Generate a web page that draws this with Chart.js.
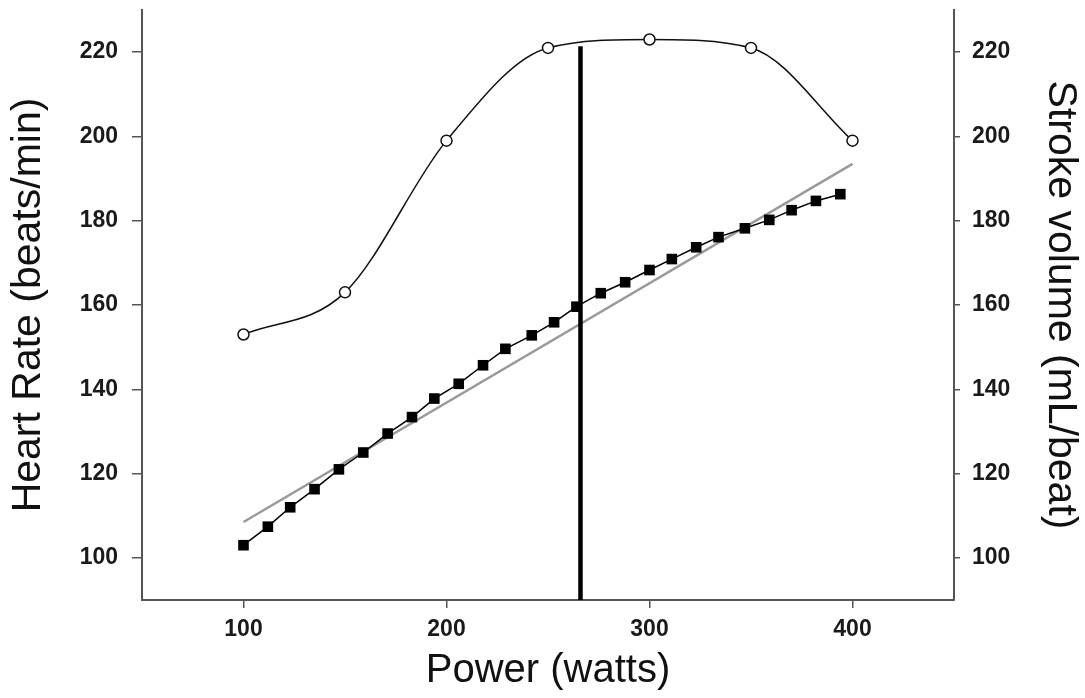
<!DOCTYPE html>
<html>
<head>
<meta charset="utf-8">
<script src="https://cdn.jsdelivr.net/npm/chart.js@4/dist/chart.umd.min.js"></script>
<style>
  html, body { margin: 0; padding: 0; background: #fff; }
  #wrap { width: 1085px; height: 698px; position: relative; }
</style>
</head>
<body>
<div id="wrap"><canvas id="myCanvas"></canvas></div>
<script>
// stroke volume (open circles, right axis)
const svPower = [100, 150, 200, 250, 300, 350, 400];
const strokeVolume = [153, 163, 199, 221, 223, 221, 199];

// heart rate (filled squares, left axis)
const hrPower = [100, 112, 123, 135, 147, 159, 171, 183, 194, 206, 218, 229, 242,
                 253, 264, 276, 288, 300, 311, 323, 334, 347, 359, 370, 382, 394];
const heartRate = [103, 107.4, 112, 116.3, 121, 125, 129.5, 133.4, 137.8, 141.3, 145.7, 149.6, 152.8,
                   155.9, 159.6, 162.8, 165.4, 168.3, 170.9, 173.7, 176.1, 178.2, 180.2, 182.5, 184.7, 186.3];

// grey straight line
const fitPower = [100, 400];
const fitHR = [108.5, 193.5];

// vertical threshold line
const thresholdPower = [266, 266];
const thresholdY = [90, 221.4];

// tick labels
const xTicks = [100, 200, 300, 400];
const yTicks = [100, 120, 140, 160, 180, 200, 220];

const toPoints = (xs, ys) => xs.map((x, i) => ({ x: x, y: ys[i] }));

const axisColor = "#555";
const tickFont = { family: "'Liberation Sans', Arial, sans-serif", size: 23, weight: "bold" };
const titleFont = { family: "'Liberation Sans', Arial, sans-serif", size: 41 };

const data = {
    datasets: [
        {
            label: "Stroke volume",
            data: toPoints(svPower, strokeVolume),
            yAxisID: "y2",
            showLine: true,
            borderColor: "#111",
            borderWidth: 1.5,
            cubicInterpolationMode: "monotone",
            pointStyle: "circle",
            pointRadius: 5.5,
            pointBackgroundColor: "#fff",
            pointBorderColor: "#111",
            pointBorderWidth: 1.5,
        },
        {
            label: "Heart rate",
            data: toPoints(hrPower, heartRate),
            yAxisID: "y",
            showLine: true,
            borderColor: "#000",
            borderWidth: 1.5,
            pointStyle: "rect",
            pointRadius: 7.5,
            pointBackgroundColor: "#000",
            pointBorderColor: "#000",
            pointBorderWidth: 0,
        },
        {
            label: "threshold",
            data: toPoints(thresholdPower, thresholdY),
            yAxisID: "y",
            showLine: true,
            borderColor: "#000",
            borderWidth: 4.5,
            pointRadius: 0,
        },
        {
            label: "fit",
            data: toPoints(fitPower, fitHR),
            yAxisID: "y",
            showLine: true,
            borderColor: "#9a9a9a",
            borderWidth: 2.5,
            pointRadius: 0,
        },
    ],
};

const fixTicks = (values) => (scale) => {
    scale.ticks = values.map((v) => ({ value: v }));
};

const yAxis = (position, title, width, tickLen, pad, titlePad) => ({
    type: "linear",
    position: position,
    min: 90,
    max: 230,
    border: { display: true, color: axisColor, width: 2 },
    grid: { display: true, drawOnChartArea: false, drawTicks: true, tickLength: tickLen, color: axisColor, lineWidth: 1.5 },
    ticks: { color: "#1a1a1a", font: tickFont, padding: pad },
    title: { display: true, text: title, color: "#111", font: titleFont, padding: titlePad },
    afterBuildTicks: fixTicks(yTicks),
    afterFit: (scale) => {
        scale.width = width;
        scale.paddingTop = 0;
        scale.paddingBottom = 0;
    },
});

new Chart(document.getElementById("myCanvas"), {
    type: "scatter",
    data,
    options: {
        responsive: true,
        maintainAspectRatio: false,
        animation: false,
        layout: { padding: { top: 10, left: 0, right: 0, bottom: 0 } },
        plugins: { legend: { display: false }, tooltip: { enabled: false } },
        scales: {
            x: {
                type: "linear",
                min: 50,
                max: 450,
                border: { display: true, color: axisColor, width: 2 },
                grid: { display: true, drawOnChartArea: false, drawTicks: true, tickLength: 8, color: axisColor, lineWidth: 1.5 },
                ticks: { color: "#1a1a1a", font: tickFont, padding: 8, maxRotation: 0 },
                title: { display: true, text: "Power (watts)", color: "#111", font: { family: titleFont.family, size: 40 }, padding: { top: 0, bottom: 3 } },
                afterBuildTicks: fixTicks(xTicks),
                afterFit: (scale) => {
                    scale.height = 98;
                    scale.paddingLeft = 0;
                    scale.paddingRight = 0;
                },
            },
            y: yAxis("left", "Heart Rate (beats/min)", 142, 10, 14, { top: 4, bottom: 0 }),
            y2: yAxis("right", "Stroke volume (mL/beat)", 131, 6, 12, { top: 0, bottom: 0 }),
        },
    },
});
</script>
</body>
</html>
